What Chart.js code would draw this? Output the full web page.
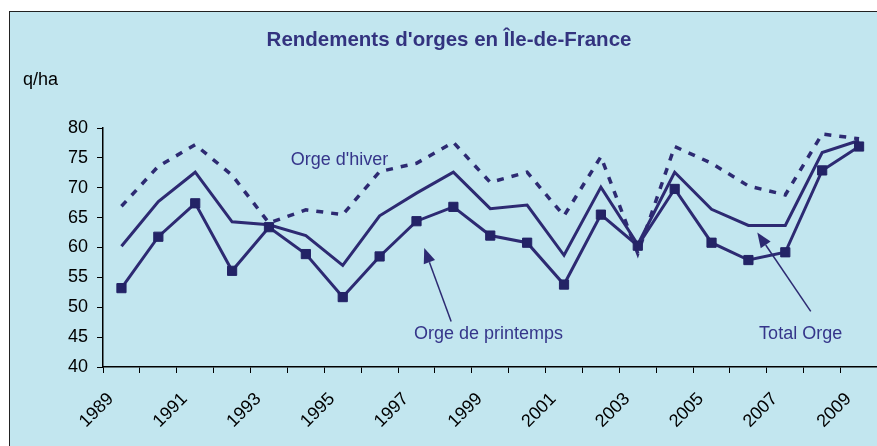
<!DOCTYPE html>
<html>
<head>
<meta charset="utf-8">
<script src="https://cdn.jsdelivr.net/npm/chart.js@4/dist/chart.umd.min.js"></script>
<style>
  html, body { margin: 0; padding: 0; background: #ffffff; overflow: hidden; }
  #wrap { position: relative; width: 877px; height: 446px; overflow: hidden; }
  #panel { position: absolute; left: 9px; top: 11px; width: 900px; height: 460px;
           background: #C2E6EF; border: 1px solid #222; }
  #c { position: absolute; left: 0; top: 0; }
</style>
</head>
<body>
<div id="wrap">
  <div id="panel"></div>
  <canvas id="c" width="885" height="446"></canvas>
</div>
<script>
// ---- Data (q/ha) ----
const years = ['1989','1990','1991','1992','1993','1994','1995','1996','1997','1998','1999',
               '2000','2001','2002','2003','2004','2005','2006','2007','2008','2009'];
const orgeHiver = [66.9, 73.6, 77.2, 72.1, 64.1, 66.3, 65.5, 72.7, 74.1, 77.6, 70.9,
                   72.6, 65.3, 75.2, 59.0, 76.9, 74.1, 70.3, 68.8, 79.0, 78.2];
const orgePrintemps = [53.2, 61.8, 67.4, 56.1, 63.4, 58.9, 51.7, 58.5, 64.4, 66.8, 62.0,
                       60.8, 53.8, 65.5, 60.3, 69.8, 60.8, 57.9, 59.2, 72.9, 76.9];
const totalOrge = [60.2, 67.7, 72.6, 64.3, 63.8, 62.0, 57.0, 65.3, 69.1, 72.6, 66.5,
                   67.1, 58.7, 70.1, 60.5, 72.6, 66.4, 63.7, 63.7, 75.9, 77.9];
const yTicks = [40, 45, 50, 55, 60, 65, 70, 75, 80];
const titleText = "Rendements d'orges en Île-de-France";
const unitText = 'q/ha';
// annotation labels: [text, category index (fractional), value]
const labelHiver = ["Orge d'hiver", 4.59, 74.7];
const labelPrintemps = ['Orge de printemps', 7.93, 45.6];
const labelTotal = ['Total Orge', 17.29, 45.6];
// arrows: [tailIndex, tailValue, tipIndex, tipValue]
const arrowPrintemps = [8.94, 47.6, 8.21, 59.9];
const arrowTotal = [18.69, 49.3, 17.24, 62.5];

const lineColor = '#2D2A72';
const textColor = '#35358A';

function arrow(ctx, x1, y1, x2, y2) {
  const ang = Math.atan2(y2 - y1, x2 - x1);
  const len = 15, half = 6;
  const bx = x2 - len * Math.cos(ang), by = y2 - len * Math.sin(ang);
  ctx.beginPath();
  ctx.moveTo(x1, y1);
  ctx.lineTo(bx, by);
  ctx.stroke();
  ctx.beginPath();
  ctx.moveTo(x2, y2);
  ctx.lineTo(bx + half * Math.sin(ang), by - half * Math.cos(ang));
  ctx.lineTo(bx - half * Math.sin(ang), by + half * Math.cos(ang));
  ctx.closePath();
  ctx.fill();
}

const annotations = {
  id: 'annotations',
  afterDraw(chart) {
    const ctx = chart.ctx;
    const xs = chart.scales.x, ys = chart.scales.y;
    ctx.save();
    // title
    ctx.fillStyle = '#33337F';
    ctx.font = 'bold 20.5px "Liberation Sans", Arial, sans-serif';
    ctx.textAlign = 'center';
    ctx.textBaseline = 'middle';
    ctx.fillText(titleText, 449, 40);
    // unit
    ctx.fillStyle = '#000';
    ctx.font = '18px "Liberation Sans", Arial, sans-serif';
    ctx.textAlign = 'left';
    ctx.fillText(unitText, 23, 80);
    // series labels
    ctx.fillStyle = textColor;
    ctx.font = '18px "Liberation Sans", Arial, sans-serif';
    for (const [t, i, v] of [labelHiver, labelPrintemps, labelTotal]) {
      ctx.fillText(t, xs.getPixelForValue(i), ys.getPixelForValue(v));
    }
    // arrows
    ctx.strokeStyle = lineColor;
    ctx.fillStyle = lineColor;
    ctx.lineWidth = 1.5;
    for (const [ti, tv, hi, hv] of [arrowPrintemps, arrowTotal]) {
      arrow(ctx, xs.getPixelForValue(ti), ys.getPixelForValue(tv),
                 xs.getPixelForValue(hi), ys.getPixelForValue(hv));
    }
    ctx.restore();
  }
};

new Chart(document.getElementById('c'), {
  type: 'line',
  data: {
    labels: years,
    datasets: [
      { label: "Orge d'hiver", data: orgeHiver, borderColor: lineColor, borderWidth: 3.5,
        borderDash: [7, 8], borderCapStyle: 'butt', pointRadius: 0, tension: 0, order: 3 },
      { label: 'Total Orge', data: totalOrge, borderColor: lineColor, borderWidth: 3,
        pointRadius: 0, tension: 0, order: 2 },
      { label: 'Orge de printemps', data: orgePrintemps, borderColor: lineColor, borderWidth: 3,
        pointStyle: 'rect', pointRadius: 6.5, pointBackgroundColor: '#232366',
        pointBorderColor: '#232366', pointBorderWidth: 1, tension: 0, order: 1 }
    ]
  },
  options: {
    responsive: false,
    animation: false,
    events: [],
    layout: { padding: { left: 59, right: 0, top: 128, bottom: 0 } },
    plugins: { legend: { display: false }, title: { display: false }, tooltip: { enabled: false } },
    scales: {
      x: {
        type: 'category',
        offset: true,
        afterFit: (s) => { s.height = 79; },
        grid: { offset: true, drawOnChartArea: false, drawTicks: true, tickLength: 6, color: '#000', lineWidth: 1 },
        border: { display: true, color: '#000', width: 1.5 },
        ticks: {
          autoSkip: false, maxRotation: 45, minRotation: 45, padding: 5,
          color: '#000', font: { family: '"Liberation Sans", Arial, sans-serif', size: 18 },
          callback: function (v, i) { return i % 2 === 0 ? years[i] + '   ' : ''; }
        }
      },
      y: {
        min: yTicks[0], max: yTicks[yTicks.length - 1],
        afterBuildTicks: (s) => { s.ticks = yTicks.map(v => ({ value: v })); },
        grid: { drawOnChartArea: false, drawTicks: true, tickLength: 6, color: '#000', lineWidth: 1 },
        border: { display: true, color: '#000', width: 1.5 },
        ticks: { padding: 9, color: '#000', font: { family: '"Liberation Sans", Arial, sans-serif', size: 18 } }
      }
    }
  },
  plugins: [annotations]
});
</script>
</body>
</html>
